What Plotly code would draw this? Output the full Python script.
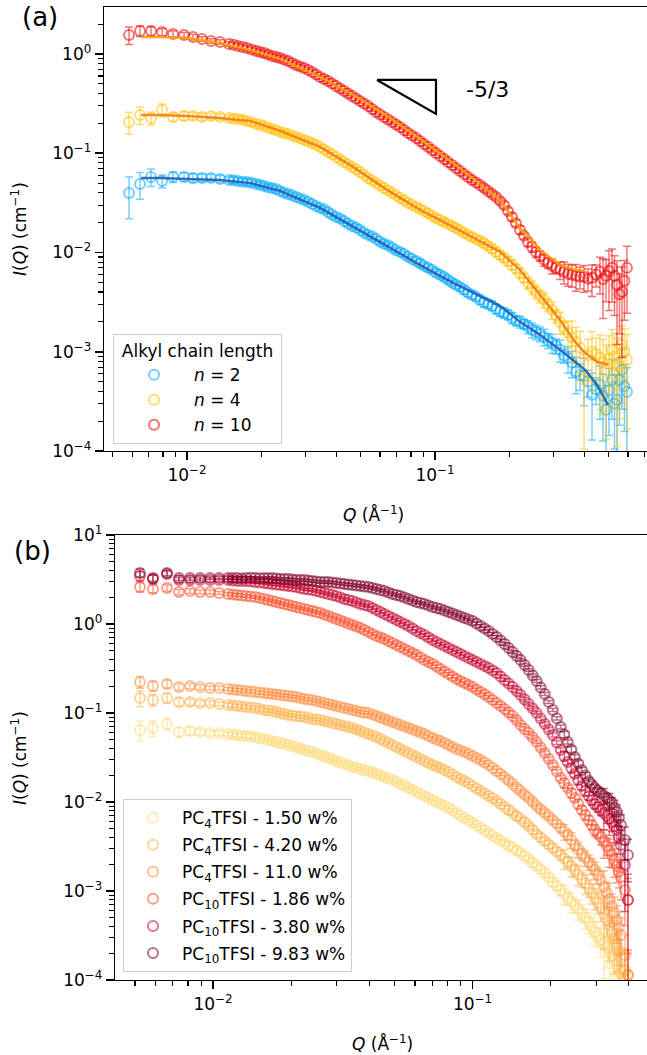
import math
import plotly.graph_objects as go

W, H = 647, 1055
FONT = "DejaVu Sans"

# ---------------- panel (a): alkyl chain length ----------------
q_a = [0.005835, 0.006463, 0.007157, 0.007930, 0.008781, 0.009725, 0.01057, 0.01149, 0.01249, 0.01359,
       0.01477, 0.01606, 0.01746, 0.01898, 0.02044, 0.02202, 0.02371, 0.02555, 0.02751, 0.02964,
       0.03192, 0.03439, 0.03703, 0.03989, 0.04297, 0.04628, 0.04985, 0.05369, 0.05783, 0.06229,
       0.06708, 0.07226, 0.07783, 0.08384, 0.09029, 0.09725, 0.1048, 0.1128, 0.1215, 0.1309,
       0.1410, 0.1519, 0.1636, 0.1762, 0.1897, 0.2044, 0.2202, 0.2371, 0.2555, 0.2751,
       0.2964, 0.3192, 0.3439, 0.3703, 0.3989, 0.4297, 0.4628, 0.4894, 0.5173, 0.5420,
       0.5675, 0.5945]
q_a_mid = [0.01540, 0.01675, 0.01821,
           0.01970, 0.02121, 0.02285, 0.02461, 0.02652, 0.02855, 0.03076, 0.03313, 0.03569, 0.03843,
           0.04140, 0.04459, 0.04803, 0.05173, 0.05572, 0.06002, 0.06464, 0.06962, 0.07499, 0.08077,
           0.08701, 0.09370, 0.1009, 0.1088, 0.1171, 0.1261, 0.1358, 0.1463, 0.1576, 0.1698,
           0.1829, 0.1969, 0.2121, 0.2285, 0.2461, 0.2652, 0.2855, 0.3076, 0.3313, 0.3569,
           0.3843, 0.4140, 0.4459,
           0.4759, 0.5032, 0.5295, 0.5547, 0.5808]

i_n2 = [0.03983, 0.04906, 0.05769, 0.05260, 0.05769, 0.05769, 0.05638, 0.05638, 0.05638, 0.05509,
        0.05383, 0.05260, 0.05140, 0.04906, 0.04685, 0.04472, 0.04173, 0.03892, 0.03630, 0.03386,
        0.03087, 0.02813, 0.02564, 0.02283, 0.02080, 0.01853, 0.01689, 0.01504, 0.01371, 0.01221,
        0.01113, 0.01014, 0.009030, 0.008229, 0.007329, 0.006680, 0.005948, 0.005298, 0.004718, 0.004201,
        0.003741, 0.003332, 0.003037, 0.002704, 0.002464, 0.002194, 0.002000, 0.001781, 0.001586, 0.001413,
        0.001229, 0.001045, 0.0008683, 0.0006275, 0.0005719, 0.0003681, 0.0004642, 0.0002600, 0.0005212, 0.0003278,
        0.0006572, 0.0003946]
i_n2_mid = [0.0535, 0.0515, 0.0505,
            0.0482, 0.0455, 0.0435, 0.0400, 0.0378, 0.0349, 0.0325, 0.0293, 0.0272, 0.0240,
            0.0220, 0.0195, 0.0179, 0.0158, 0.0145, 0.0128, 0.0118, 0.0105, 0.00965, 0.00860,
            0.00780, 0.00700, 0.00625, 0.00565, 0.00498, 0.00448, 0.00392, 0.00356, 0.00315, 0.00290,
            0.00255, 0.00236, 0.00205, 0.00190, 0.00166, 0.00152, 0.00130, 0.00115, 0.00092, 0.00078,
            0.00058, 0.00050, 0.00042,
            0.00036, 0.00041, 0.00030, 0.00052, 0.00045]

i_n4 = [0.2066, 0.2430, 0.2267, 0.2729, 0.2320, 0.2375, 0.2375, 0.2320, 0.2375, 0.2320,
        0.2267, 0.2215, 0.2115, 0.1973, 0.1883, 0.1757, 0.1639, 0.1564, 0.1459, 0.1361,
        0.1270, 0.1157, 0.1030, 0.09178, 0.08176, 0.07278, 0.06481, 0.05638, 0.05022, 0.04472,
        0.03983, 0.03547, 0.03159, 0.02878, 0.02623, 0.02336, 0.02129, 0.01941, 0.01769, 0.01576,
        0.01436, 0.01309, 0.01166, 0.01014, 0.008823, 0.007502, 0.006230, 0.004941, 0.004010, 0.003332,
        0.002642, 0.002000, 0.001550, 0.001258, 0.0005212, 0.0009977, 0.0008683, 0.0006572, 0.001045, 0.0007380,
        0.001173, 0.0008290]
i_n4_mid = [0.2240, 0.2170, 0.2050,
            0.1935, 0.1810, 0.1700, 0.1600, 0.1510, 0.1415, 0.1310, 0.1215, 0.1090, 0.0975,
            0.0865, 0.0770, 0.0688, 0.0605, 0.0532, 0.0474, 0.0420, 0.0376, 0.0335, 0.0302,
            0.0275, 0.0248, 0.0223, 0.0203, 0.0185, 0.0167, 0.0150, 0.0137, 0.0124, 0.0109,
            0.00945, 0.00815, 0.00685, 0.00555, 0.00445, 0.00365, 0.00297, 0.00232, 0.00176, 0.00140,
            0.00110, 0.00092, 0.00095,
            0.00078, 0.00085, 0.00090, 0.00070, 0.00100]

i_n10 = [1.554, 1.704, 1.704, 1.666, 1.590, 1.554, 1.483, 1.416, 1.352, 1.321,
         1.261, 1.204, 1.149, 1.072, 1.023, 0.9547, 0.9115, 0.8503, 0.7749, 0.7228,
         0.6588, 0.5867, 0.5347, 0.4763, 0.4240, 0.3776, 0.3363, 0.2995, 0.2605, 0.2320,
         0.2066, 0.1840, 0.1601, 0.1426, 0.1241, 0.1079, 0.09393, 0.08176, 0.07112, 0.06187,
         0.05383, 0.04794, 0.04173, 0.03630, 0.03016, 0.02283, 0.01689, 0.01278, 0.01014, 0.008424,
         0.007329, 0.006680, 0.006089, 0.005812, 0.005679, 0.005548, 0.006378, 0.005812, 0.006997, 0.004718,
         0.004010, 0.006997]
i_n10_mid = [1.235, 1.175, 1.110,
             1.048, 0.988, 0.934, 0.880, 0.812, 0.748, 0.690, 0.622, 0.560, 0.505,
             0.449, 0.400, 0.356, 0.317, 0.279, 0.246, 0.219, 0.195, 0.171, 0.151,
             0.133, 0.1160, 0.1005, 0.0876, 0.0762, 0.0663, 0.0577, 0.0508, 0.0447, 0.0389,
             0.0331, 0.0262, 0.0197, 0.0147, 0.0114, 0.00925, 0.00785, 0.00700, 0.00640, 0.00595,
             0.00570, 0.00545, 0.00600,
             0.00540, 0.00650, 0.00580, 0.00380, 0.00520]

rel_n2 = [0.45, 0.30, 0.20, 0.15, 0.12, 0.10, 0.10, 0.09, 0.08, 0.08,
          0.07, 0.07, 0.07, 0.06, 0.06, 0.06, 0.06, 0.06, 0.06, 0.06,
          0.06, 0.06, 0.06, 0.06, 0.06, 0.06, 0.06, 0.06, 0.06, 0.06,
          0.06, 0.06, 0.07, 0.07, 0.07, 0.07, 0.08, 0.08, 0.08, 0.09,
          0.09, 0.10, 0.10, 0.11, 0.12, 0.13, 0.14, 0.15, 0.17, 0.19,
          0.22, 0.25, 0.30, 0.40, 0.50, 0.65, 0.55, 0.75, 0.60, 0.80,
          0.60, 0.75]
rel_n4 = [0.25, 0.20, 0.15, 0.15, 0.10, 0.10, 0.08, 0.08, 0.07, 0.07,
          0.06, 0.06, 0.06, 0.05, 0.05, 0.05, 0.05, 0.05, 0.05, 0.05,
          0.05, 0.05, 0.05, 0.05, 0.05, 0.05, 0.05, 0.05, 0.05, 0.05,
          0.05, 0.05, 0.05, 0.06, 0.06, 0.06, 0.06, 0.07, 0.07, 0.07,
          0.08, 0.08, 0.09, 0.10, 0.10, 0.11, 0.12, 0.13, 0.15, 0.17,
          0.20, 0.25, 0.30, 0.40, 0.80, 0.60, 0.70, 0.80, 0.60, 0.85,
          0.55, 0.80]
rel_n10 = [0.20, 0.12, 0.10, 0.08, 0.07, 0.06, 0.06, 0.05, 0.05, 0.05,
           0.05, 0.05, 0.05, 0.05, 0.05, 0.05, 0.05, 0.05, 0.05, 0.05,
           0.05, 0.05, 0.05, 0.05, 0.05, 0.05, 0.05, 0.05, 0.05, 0.05,
           0.05, 0.05, 0.05, 0.05, 0.05, 0.05, 0.05, 0.05, 0.05, 0.05,
           0.06, 0.06, 0.06, 0.07, 0.07, 0.08, 0.09, 0.10, 0.12, 0.14,
           0.17, 0.20, 0.25, 0.30, 0.30, 0.35, 0.40, 0.45, 0.55, 0.75,
           0.78, 0.65]
# relative errors of the in-between points, as (count, value) runs
rel_n2_mid_runs = [(3, 0.07), (20, 0.06), (8, 0.08), (6, 0.11), (5, 0.17), (4, 0.30), (5, 0.65)]
rel_n4_mid_runs = [(3, 0.06), (20, 0.05), (8, 0.07), (6, 0.10), (5, 0.15), (4, 0.45), (5, 0.70)]
rel_n10_mid_runs = [(31, 0.05), (6, 0.07), (4, 0.12), (5, 0.25), (5, 0.60)]

q_fit = [0.006523, 0.007782, 0.01, 0.01359, 0.01795, 0.02371, 0.03439, 0.04671, 0.06405, 0.08702,
         0.1182, 0.1562, 0.1828, 0.2202, 0.2651, 0.3192, 0.3669, 0.4026, 0.4500, 0.4985]
fit_n2 = [0.05638, 0.05638, 0.05509, 0.05383, 0.05022, 0.04173, 0.02813, 0.01811, 0.01166, 0.007502,
          0.004941, 0.003489, 0.002899, 0.002000, 0.001480, 0.001045, 0.0007914, 0.0006572, 0.0004642, 0.0002919]
fit_n4 = [0.2430, 0.2430, 0.2375, 0.2267, 0.2115, 0.1677, 0.1157, 0.07278, 0.04271, 0.02685,
          0.01811, 0.01249, 0.01014, 0.006680, 0.003741, 0.002095, 0.001258, 0.0009748, 0.0007914, 0.0007380]
fit_n10 = [1.483, 1.483, 1.449, 1.291, 1.097, 0.8903, 0.5867, 0.3865, 0.2375, 0.1393,
           0.07989, 0.04576, 0.03386, 0.01769, 0.01062, 0.007502, 0.006680, 0.006527]

slope_q = [0.05834, 0.1009, 0.1009, 0.05834]
slope_i = [0.5471, 0.5471, 0.2488, 0.5471]
slope_label = "-5/3"
slope_label_pos = (0.1309, 0.434)

labels_a = ["<i>n</i> = 2", "<i>n</i> = 4", "<i>n</i> = 10"]
colors_a = ["#00aaff", "#ffbf00", "#ee0000"]
fit_colors_a = ["#1f5fb4", "#f57c12", "#ffa000"]

# ---------------- panel (b): concentration series ----------------
q_b = [0.005225, 0.005865, 0.006644, 0.007389, 0.008151, 0.008909, 0.009736, 0.01055, 0.01143, 0.01238,
       0.01341, 0.01453, 0.01574, 0.01690, 0.01814, 0.01948, 0.02091, 0.02245, 0.02411, 0.02589,
       0.02780, 0.02985, 0.03205, 0.03442, 0.03695, 0.03967, 0.04259, 0.04573, 0.04911, 0.05272,
       0.05661, 0.06078, 0.06526, 0.07007, 0.07522, 0.08077, 0.08672, 0.09314, 0.1000, 0.1074,
       0.1153, 0.1238, 0.1329, 0.1427, 0.1532, 0.1645, 0.1766, 0.1897, 0.2037, 0.2187,
       0.2327, 0.2476, 0.2635, 0.2805, 0.2958, 0.3120, 0.3292, 0.3441, 0.3597, 0.3727,
       0.3863, 0.3967]
q_b_mid = [0.01190, 0.01289, 0.01396, 0.01512,
           0.01631, 0.01751, 0.01880, 0.02019, 0.02167, 0.02326, 0.02498, 0.02683, 0.02881, 0.03093,
           0.03321, 0.03567, 0.03829, 0.04111, 0.04413, 0.04739, 0.05089, 0.05463, 0.05866, 0.06298,
           0.06762, 0.07261, 0.07794, 0.08369, 0.08986, 0.09651, 0.1036, 0.1113, 0.1195, 0.1283,
           0.1377, 0.1479, 0.1587, 0.1705, 0.1830, 0.1966, 0.2111,
           0.2256, 0.2401, 0.2554, 0.2718, 0.2881, 0.3038, 0.3204, 0.3366, 0.3518, 0.3661]

i_pc4_150 = [0.06442, 0.06785, 0.07522, 0.06115, 0.06276, 0.06115, 0.05960, 0.05960, 0.05808, 0.05660,
             0.05516, 0.05375, 0.05104, 0.04846, 0.04602, 0.04369, 0.04150, 0.03839, 0.03646, 0.03373,
             0.03121, 0.02888, 0.02673, 0.02473, 0.02348, 0.02230, 0.02063, 0.01909, 0.01767, 0.01593,
             0.01437, 0.01296, 0.01168, 0.01053, 0.009495, 0.008561, 0.007522, 0.006612, 0.005808, 0.005104,
             0.004485, 0.003940, 0.003462, 0.003042, 0.002673, 0.002288, 0.001909, 0.001593, 0.001262, 0.001026,
             0.0008343, 0.0006963, 0.0005659, 0.0004485, 0.0003462, 0.0002813, 0.0002348, 0.0001909, 0.0001474, 0.0001199,
             0.0001053, 0.0001138]
i_pc4_150_mid = [0.0575, 0.0555, 0.0548, 0.0520,
                 0.0500, 0.0471, 0.0450, 0.0425, 0.0400, 0.0374, 0.0350, 0.0325, 0.0300, 0.0278,
                 0.0258, 0.0242, 0.0229, 0.0215, 0.0198, 0.0184, 0.0168, 0.0152, 0.0137, 0.0123,
                 0.0111, 0.0100, 0.00900, 0.00805, 0.00705, 0.00620, 0.00545, 0.00478, 0.00420, 0.00370,
                 0.00325, 0.00285, 0.00248, 0.00208, 0.00175, 0.00142, 0.00114,
                 0.00093, 0.00076, 0.00063, 0.00050, 0.00040, 0.00031, 0.00026, 0.00021, 0.00017, 0.000133]
i_pc4_420 = [0.1474, 0.1400, 0.1474, 0.1329, 0.1329, 0.1295, 0.1295, 0.1262, 0.1230, 0.1199,
             0.1168, 0.1138, 0.1081, 0.1053, 0.1000, 0.09495, 0.09254, 0.09019, 0.08561, 0.08343,
             0.07921, 0.07522, 0.07142, 0.06785, 0.06276, 0.05808, 0.05375, 0.04846, 0.04369, 0.03940,
             0.03553, 0.03203, 0.02888, 0.02604, 0.02410, 0.02173, 0.01909, 0.01722, 0.01513, 0.01329,
             0.01168, 0.01026, 0.008788, 0.007522, 0.006442, 0.005375, 0.004369, 0.003646, 0.003042, 0.002538,
             0.002117, 0.001722, 0.001364, 0.001081, 0.0008343, 0.0006442, 0.0004722, 0.0003462, 0.0002473, 0.0001767,
             0.0001295, 0.0001138]
i_pc4_420_mid = [0.1215, 0.1185, 0.1150, 0.1110,
                 0.1065, 0.1025, 0.0975, 0.0937, 0.0915, 0.0878, 0.0845, 0.0812, 0.0772, 0.0733,
                 0.0695, 0.0652, 0.0604, 0.0558, 0.0510, 0.0460, 0.0415, 0.0374, 0.0337, 0.0304,
                 0.0275, 0.0250, 0.0229, 0.0204, 0.0181, 0.0162, 0.0142, 0.0125, 0.0110, 0.00950,
                 0.00813, 0.00695, 0.00592, 0.00485, 0.00400, 0.00333, 0.00278,
                 0.00232, 0.00191, 0.00154, 0.00122, 0.00095, 0.00074, 0.00055, 0.00041, 0.00029, 0.00021]
i_pc4_110 = [0.2230, 0.2011, 0.2117, 0.1959, 0.2011, 0.1959, 0.1909, 0.1909, 0.1860, 0.1813,
             0.1767, 0.1722, 0.1678, 0.1635, 0.1593, 0.1552, 0.1513, 0.1437, 0.1400, 0.1329,
             0.1262, 0.1199, 0.1138, 0.1081, 0.1026, 0.1000, 0.09254, 0.08561, 0.07921, 0.07328,
             0.06785, 0.06276, 0.05808, 0.05237, 0.04846, 0.04369, 0.03940, 0.03646, 0.03288, 0.02964,
             0.02604, 0.02230, 0.01909, 0.01593, 0.01329, 0.01109, 0.009018, 0.007522, 0.006276, 0.005104,
             0.004258, 0.003288, 0.002604, 0.002117, 0.001722, 0.001329, 0.0009495, 0.0006785, 0.0004722, 0.0003203,
             0.0001909, 0.0001138]
i_pc4_110_mid = [0.1835, 0.1790, 0.1745, 0.1700,
                 0.1655, 0.1612, 0.1572, 0.1532, 0.1475, 0.1418, 0.1365, 0.1295, 0.1230, 0.1168,
                 0.1110, 0.1053, 0.1013, 0.0962, 0.0890, 0.0823, 0.0762, 0.0705, 0.0653, 0.0604,
                 0.0552, 0.0504, 0.0460, 0.0415, 0.0379, 0.0346, 0.0312, 0.0278, 0.0241, 0.0206,
                 0.0174, 0.0145, 0.0121, 0.0100, 0.00825, 0.00690, 0.00570,
                 0.00466, 0.00375, 0.00293, 0.00236, 0.00192, 0.00151, 0.00112, 0.00081, 0.00057, 0.00039]
i_pc10_186 = [2.604, 2.474, 2.538, 2.288, 2.349, 2.288, 2.288, 2.230, 2.173, 2.117,
              2.063, 2.011, 1.909, 1.813, 1.722, 1.635, 1.552, 1.474, 1.400, 1.329,
              1.230, 1.138, 1.053, 0.9745, 0.9018, 0.8131, 0.7328, 0.6785, 0.6115, 0.5516,
              0.4972, 0.4485, 0.3940, 0.3553, 0.3121, 0.2743, 0.2410, 0.2173, 0.1959, 0.1722,
              0.1513, 0.1295, 0.1109, 0.09254, 0.07328, 0.05960, 0.04722, 0.03553, 0.02604, 0.01860,
              0.01437, 0.01109, 0.008131, 0.006276, 0.004846, 0.004043, 0.003203, 0.002538, 0.001909, 0.001437,
              0.001026, 0.0007921]
i_pc10_186_mid = [2.145, 2.090, 2.037, 1.960,
                  1.860, 1.767, 1.678, 1.593, 1.513, 1.437, 1.364, 1.279, 1.183, 1.095,
                  1.013, 0.937, 0.856, 0.772, 0.705, 0.644, 0.581, 0.524, 0.472, 0.420,
                  0.374, 0.333, 0.292, 0.257, 0.229, 0.206, 0.184, 0.162, 0.140, 0.120,
                  0.1015, 0.0829, 0.0661, 0.0534, 0.0410, 0.0304, 0.0220,
                  0.0163, 0.0126, 0.00950, 0.00715, 0.00552, 0.00442, 0.00360, 0.00285, 0.00220, 0.00166]
i_pc10_380 = [3.462, 3.203, 3.646, 3.121, 3.121, 3.121, 3.121, 3.121, 3.121, 3.042,
              3.042, 2.964, 2.888, 2.815, 2.743, 2.673, 2.604, 2.474, 2.410, 2.288,
              2.173, 2.063, 1.909, 1.813, 1.678, 1.593, 1.437, 1.295, 1.168, 1.053,
              0.9495, 0.8343, 0.7522, 0.6612, 0.5960, 0.5375, 0.4846, 0.4369, 0.3940, 0.3553,
              0.3203, 0.2815, 0.2348, 0.1959, 0.1593, 0.1262, 0.1000, 0.07522, 0.05660, 0.03839,
              0.02815, 0.02063, 0.01513, 0.01168, 0.009495, 0.008131, 0.006963, 0.005960, 0.004846, 0.003288,
              0.001959, 0.0007921]
i_pc10_380_mid = [3.08, 3.04, 3.00, 2.925,
                  2.850, 2.780, 2.708, 2.640, 2.540, 2.442, 2.348, 2.230, 2.118, 1.985,
                  1.860, 1.745, 1.635, 1.513, 1.364, 1.230, 1.109, 1.000, 0.890, 0.792,
                  0.705, 0.628, 0.566, 0.510, 0.460, 0.415, 0.374, 0.337, 0.300, 0.257,
                  0.2145, 0.1765, 0.1418, 0.1124, 0.0868, 0.0653, 0.0466,
                  0.0329, 0.0241, 0.0177, 0.0133, 0.0105, 0.00880, 0.00752, 0.00645, 0.00537, 0.00400]
i_pc10_983 = [3.741, 3.288, 3.741, 3.288, 3.288, 3.288, 3.288, 3.288, 3.288, 3.288,
              3.288, 3.288, 3.288, 3.288, 3.203, 3.203, 3.121, 3.121, 3.042, 2.964,
              2.964, 2.888, 2.815, 2.743, 2.673, 2.604, 2.474, 2.349, 2.173, 2.063,
              1.909, 1.767, 1.678, 1.552, 1.474, 1.364, 1.262, 1.168, 1.081, 0.9495,
              0.8343, 0.7142, 0.5960, 0.4846, 0.3940, 0.3042, 0.2288, 0.1635, 0.1081, 0.06963,
              0.04722, 0.03203, 0.02288, 0.01722, 0.01437, 0.01262, 0.01109, 0.009745, 0.007721, 0.005516,
              0.003741, 0.002538]
i_pc10_983_mid = [3.29, 3.25, 3.30, 3.26,
                  3.26, 3.24, 3.20, 3.16, 3.12, 3.08, 3.00, 2.96, 2.93, 2.85,
                  2.78, 2.71, 2.64, 2.54, 2.41, 2.26, 2.12, 1.985, 1.835, 1.722,
                  1.615, 1.513, 1.418, 1.312, 1.214, 1.124, 1.013, 0.890, 0.772, 0.652,
                  0.537, 0.437, 0.346, 0.264, 0.194, 0.1330, 0.0870,
                  0.0573, 0.0389, 0.0271, 0.0199, 0.0157, 0.0134, 0.0118, 0.0104, 0.0087, 0.0066]

rel_pc4_150 = [0.25, 0.20, 0.15, 0.12, 0.10, 0.08, 0.07, 0.06, 0.05, 0.05,
               0.05, 0.04, 0.04, 0.04, 0.04, 0.04, 0.04, 0.04, 0.04, 0.04,
               0.04, 0.04, 0.04, 0.04, 0.04, 0.04, 0.04, 0.04, 0.04, 0.04,
               0.04, 0.04, 0.04, 0.04, 0.04, 0.04, 0.04, 0.04, 0.05, 0.05,
               0.05, 0.05, 0.06, 0.06, 0.07, 0.08, 0.09, 0.10, 0.12, 0.14,
               0.16, 0.19, 0.22, 0.26, 0.30, 0.36, 0.42, 0.50, 0.60, 0.70,
               0.80, 0.90]
rel_pc4_420 = [0.20, 0.15, 0.12, 0.10, 0.08, 0.07, 0.06, 0.05, 0.05, 0.04,
               0.04, 0.04, 0.04, 0.04, 0.04, 0.04, 0.04, 0.04, 0.04, 0.04,
               0.04, 0.04, 0.04, 0.04, 0.04, 0.04, 0.04, 0.04, 0.04, 0.04,
               0.04, 0.04, 0.04, 0.04, 0.04, 0.04, 0.04, 0.04, 0.04, 0.05,
               0.05, 0.05, 0.05, 0.06, 0.06, 0.07, 0.08, 0.09, 0.10, 0.12,
               0.14, 0.16, 0.19, 0.22, 0.26, 0.30, 0.36, 0.42, 0.50, 0.60,
               0.75, 0.90]
rel_pc4_110 = [0.15, 0.12, 0.10, 0.08, 0.07, 0.06, 0.05, 0.05, 0.04, 0.04,
               0.04, 0.04, 0.04, 0.04, 0.04, 0.04, 0.04, 0.04, 0.04, 0.04,
               0.04, 0.04, 0.04, 0.04, 0.04, 0.04, 0.04, 0.04, 0.04, 0.04,
               0.04, 0.04, 0.04, 0.04, 0.04, 0.04, 0.04, 0.04, 0.04, 0.04,
               0.04, 0.05, 0.05, 0.05, 0.06, 0.06, 0.07, 0.08, 0.09, 0.10,
               0.12, 0.14, 0.16, 0.19, 0.22, 0.26, 0.30, 0.36, 0.45, 0.55,
               0.70, 0.90]
rel_pc10_186 = [0.12, 0.10, 0.08, 0.07, 0.06, 0.05, 0.05, 0.04, 0.04, 0.04,
                0.03, 0.03, 0.03, 0.03, 0.03, 0.03, 0.03, 0.03, 0.03, 0.03,
                0.03, 0.03, 0.03, 0.03, 0.03, 0.03, 0.03, 0.03, 0.03, 0.03,
                0.03, 0.03, 0.03, 0.03, 0.03, 0.03, 0.03, 0.03, 0.03, 0.03,
                0.03, 0.03, 0.03, 0.03, 0.04, 0.04, 0.04, 0.05, 0.05, 0.06,
                0.07, 0.08, 0.10, 0.12, 0.15, 0.18, 0.22, 0.28, 0.35, 0.45,
                0.60, 0.75]
rel_pc10_380 = [0.12, 0.10, 0.08, 0.07, 0.06, 0.05, 0.05, 0.04, 0.04, 0.04,
                0.03, 0.03, 0.03, 0.03, 0.03, 0.03, 0.03, 0.03, 0.03, 0.03,
                0.03, 0.03, 0.03, 0.03, 0.03, 0.03, 0.03, 0.03, 0.03, 0.03,
                0.03, 0.03, 0.03, 0.03, 0.03, 0.03, 0.03, 0.03, 0.03, 0.03,
                0.03, 0.03, 0.03, 0.03, 0.04, 0.04, 0.04, 0.05, 0.05, 0.06,
                0.07, 0.08, 0.09, 0.10, 0.12, 0.14, 0.17, 0.22, 0.30, 0.45,
                0.70, 0.95]
rel_pc10_983 = [0.10, 0.08, 0.07, 0.06, 0.05, 0.05, 0.04, 0.04, 0.04, 0.03,
                0.03, 0.03, 0.03, 0.03, 0.03, 0.03, 0.03, 0.03, 0.03, 0.03,
                0.03, 0.03, 0.03, 0.03, 0.03, 0.03, 0.03, 0.03, 0.03, 0.03,
                0.03, 0.03, 0.03, 0.03, 0.03, 0.03, 0.03, 0.03, 0.03, 0.03,
                0.03, 0.03, 0.03, 0.03, 0.03, 0.03, 0.04, 0.04, 0.04, 0.05,
                0.05, 0.06, 0.07, 0.08, 0.09, 0.10, 0.12, 0.15, 0.20, 0.30,
                0.40, 0.50]
rel_pc4_150_mid_runs = [(4, 0.05), (30, 0.04), (7, 0.10), (6, 0.25), (4, 0.60)]
rel_pc4_420_mid_runs = [(4, 0.05), (30, 0.04), (7, 0.10), (6, 0.25), (4, 0.60)]
rel_pc4_110_mid_runs = [(34, 0.04), (7, 0.08), (6, 0.20), (4, 0.50)]
rel_pc10_186_mid_runs = [(34, 0.03), (7, 0.05), (6, 0.12), (4, 0.35)]
rel_pc10_380_mid_runs = [(34, 0.03), (7, 0.05), (6, 0.12), (4, 0.35)]
rel_pc10_983_mid_runs = [(34, 0.03), (7, 0.04), (6, 0.08), (4, 0.20)]

labels_b = ["PC<sub>4</sub>TFSI - 1.50 w%", "PC<sub>4</sub>TFSI - 4.20 w%", "PC<sub>4</sub>TFSI - 11.0 w%",
            "PC<sub>10</sub>TFSI - 1.86 w%", "PC<sub>10</sub>TFSI - 3.80 w%", "PC<sub>10</sub>TFSI - 9.83 w%"]
colors_b = ["#fed976", "#feb24c", "#fd8d3c", "#fc4e2a", "#c4002b", "#800026"]

# axis ticks
major_x = [0.01, 0.1]
major_x_text = ["10<sup>\u22122</sup>", "10<sup>\u22121</sup>"]
major_y = [1e-4, 1e-3, 1e-2, 1e-1, 1, 10]
major_y_text = ["10<sup>\u22124</sup>", "10<sup>\u22123</sup>", "10<sup>\u22122</sup>",
                "10<sup>\u22121</sup>", "10<sup>0</sup>", "10<sup>1</sup>"]


def rgba(hx, a):
    hx = hx.lstrip("#")
    r, g, b = int(hx[0:2], 16), int(hx[2:4], 16), int(hx[4:6], 16)
    return f"rgba({r},{g},{b},{a})"


def expand(runs):
    out = []
    for n, v in runs:
        out += [v] * n
    return out


def minor_vals(lo_exp, hi_exp):
    vals = []
    for e in range(lo_exp, hi_exp + 1):
        for m in range(2, 10):
            vals.append(m * 10 ** e)
    return vals


def data_trace(q, inten, rel, color, name, xa, ya, legend, alpha=0.5):
    err = [v * r for v, r in zip(inten, rel)]
    return go.Scatter(
        x=q, y=inten, mode="markers", name=name, xaxis=xa, yaxis=ya,
        legend=legend, legendgroup=name,
        marker=dict(symbol="circle-open", size=10, color=rgba(color, alpha),
                    line=dict(width=2.0, color=rgba(color, alpha))),
        error_y=dict(type="data", array=err, visible=True, color=rgba(color, alpha),
                     thickness=1.5, width=4),
    )


fig = go.Figure()

# panel (a)
sets_a = [
    (i_n2, i_n2_mid, rel_n2, rel_n2_mid_runs),
    (i_n4, i_n4_mid, rel_n4, rel_n4_mid_runs),
    (i_n10, i_n10_mid, rel_n10, rel_n10_mid_runs),
]
for (base, mid, rel, runs), col, lab in zip(sets_a, colors_a, labels_a):
    fig.add_trace(data_trace(q_a + q_a_mid, base + mid, rel + expand(runs), col, lab,
                             "x", "y", "legend", alpha=0.55))
for fit, col in zip([fit_n2, fit_n4, fit_n10], fit_colors_a):
    fig.add_trace(go.Scatter(x=q_fit[:len(fit)], y=fit, mode="lines", xaxis="x", yaxis="y",
                             line=dict(color=col, width=2.5), opacity=0.9, showlegend=False,
                             hoverinfo="skip"))
fig.add_trace(go.Scatter(x=slope_q, y=slope_i, mode="lines", xaxis="x", yaxis="y",
                         line=dict(color="black", width=2.2), showlegend=False, hoverinfo="skip"))

# panel (b)
sets_b = [
    (i_pc4_150, i_pc4_150_mid, rel_pc4_150, rel_pc4_150_mid_runs),
    (i_pc4_420, i_pc4_420_mid, rel_pc4_420, rel_pc4_420_mid_runs),
    (i_pc4_110, i_pc4_110_mid, rel_pc4_110, rel_pc4_110_mid_runs),
    (i_pc10_186, i_pc10_186_mid, rel_pc10_186, rel_pc10_186_mid_runs),
    (i_pc10_380, i_pc10_380_mid, rel_pc10_380, rel_pc10_380_mid_runs),
    (i_pc10_983, i_pc10_983_mid, rel_pc10_983, rel_pc10_983_mid_runs),
]
for (base, mid, rel, runs), col, lab in zip(sets_b, colors_b, labels_b):
    fig.add_trace(data_trace(q_b + q_b_mid, base + mid, rel + expand(runs), col, lab,
                             "x2", "y2", "legend2", alpha=0.55))

axis_common = dict(
    type="log", showline=True, linecolor="black", linewidth=1.3, ticks="outside",
    ticklen=8, tickwidth=1.6, tickcolor="black", showgrid=False, zeroline=False,
    tickfont=dict(family=FONT, size=17, color="black"), automargin=False,
)
minor_common = dict(tickmode="array", ticklen=4.5, tickwidth=1.1, tickcolor="black",
                    ticks="outside", showgrid=False)

fig.update_layout(
    width=W, height=H, margin=dict(l=0, r=0, t=0, b=0, autoexpand=False),
    paper_bgcolor="white", plot_bgcolor="white",
    font=dict(family=FONT, size=17, color="black"),
    xaxis=dict(axis_common, domain=[104 / W, 1], range=[-2.335, -0.145], anchor="y", mirror=True,
               tickmode="array", tickvals=major_x, ticktext=major_x_text,
               minor=dict(minor_common, tickvals=minor_vals(-3, -1))),
    yaxis=dict(axis_common, domain=[1 - 451 / H, 1 - 7 / H], range=[-4, 0.473], anchor="x",
               tickmode="array", tickvals=major_y[:5], ticktext=major_y_text[:5],
               minor=dict(minor_common, tickvals=minor_vals(-4, 0))),
    xaxis2=dict(axis_common, domain=[115 / W, 1], range=[-2.378, -0.328], anchor="y2", mirror=True,
                tickmode="array", tickvals=major_x, ticktext=major_x_text,
                minor=dict(minor_common, tickvals=minor_vals(-3, -1))),
    yaxis2=dict(axis_common, domain=[1 - 980 / H, 1 - 535 / H], range=[-4, 1], anchor="x2",
                tickmode="array", tickvals=major_y, ticktext=major_y_text,
                minor=dict(minor_common, tickvals=minor_vals(-4, 0))),
    legend=dict(x=113 / W, y=1 - 334 / H, xanchor="left", yanchor="top",
                bordercolor="#cccccc", borderwidth=1, bgcolor="rgba(255,255,255,0.85)",
                font=dict(family=FONT, size=17, color="black"),
                title=dict(text="\u00a0Alkyl chain length\u00a0", side="top center",
                           font=dict(family=FONT, size=17, color="black")),
                itemwidth=70, tracegroupgap=0),
    legend2=dict(x=123 / W, y=1 - 799 / H, xanchor="left", yanchor="top",
                 bordercolor="#cccccc", borderwidth=1, bgcolor="rgba(255,255,255,0.85)",
                 font=dict(family=FONT, size=17, color="black"),
                 itemwidth=48, tracegroupgap=2),
)

ann = [
    dict(text="(a)", x=20 / W, y=1 - 17 / H, xanchor="left", yanchor="middle", font=dict(size=26)),
    dict(text="(b)", x=12 / W, y=1 - 551 / H, xanchor="left", yanchor="middle", font=dict(size=26)),
    dict(text="<i>I</i>(<i>Q</i>) (cm<sup>\u22121</sup>)", x=19 / W, y=1 - 229 / H, textangle=-90,
         xanchor="center", yanchor="middle", font=dict(size=17)),
    dict(text="<i>I</i>(<i>Q</i>) (cm<sup>\u22121</sup>)", x=19 / W, y=1 - 758 / H, textangle=-90,
         xanchor="center", yanchor="middle", font=dict(size=17)),
    dict(text="<i>Q</i> (\u00c5<sup>\u22121</sup>)", x=374 / W, y=1 - 514 / H,
         xanchor="center", yanchor="middle", font=dict(size=17)),
    dict(text="<i>Q</i> (\u00c5<sup>\u22121</sup>)", x=382 / W, y=1 - 1043 / H,
         xanchor="center", yanchor="middle", font=dict(size=17)),
]
for a in ann:
    a.update(xref="paper", yref="paper", showarrow=False)
ann.append(dict(text=slope_label, xref="x", yref="y", x=math.log10(slope_label_pos[0]),
                y=math.log10(slope_label_pos[1]), xanchor="left", yanchor="middle",
                showarrow=False, font=dict(size=22)))
fig.update_layout(annotations=ann)

# the page's default 8 px body margin would shift the figure; remove it
fig.write_html("out.html", config={"displayModeBar": False, "staticPlot": True},
               post_script="document.body.style.margin='0px';")
